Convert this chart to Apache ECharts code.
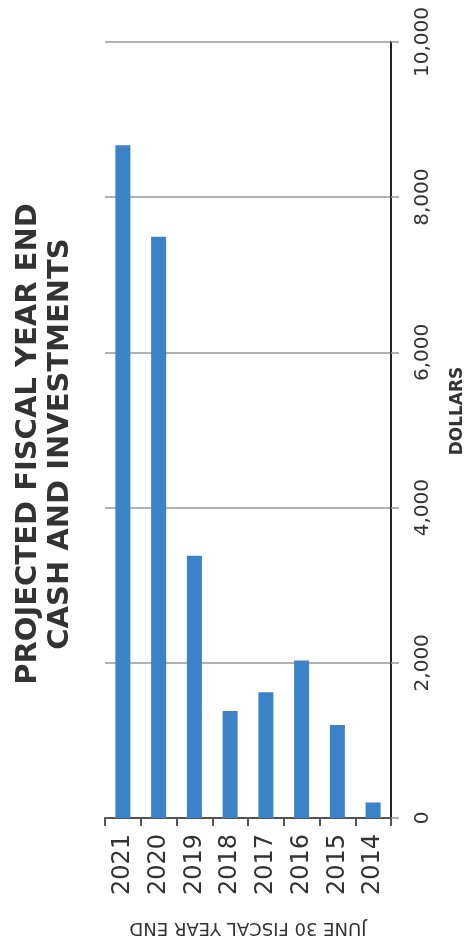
<!DOCTYPE html>
<html>
<head>
<meta charset="utf-8">
<script src="https://cdn.jsdelivr.net/npm/echarts@6/dist/echarts.min.js"></script>
<style>
  html, body { margin: 0; padding: 0; background: #ffffff; }
  #chart { width: 466px; height: 943px; }
</style>
</head>
<body>
<div id="chart"></div>
<script>
const titleLines = ['PROJECTED FISCAL YEAR END', 'CASH AND INVESTMENTS'];
const categoryAxisName = 'JUNE 30 FISCAL YEAR END';
const valueAxisName = 'DOLLARS';
const years = ['2021', '2020', '2019', '2018', '2017', '2016', '2015', '2014'];
const cashAndInvestments = [8670, 7490, 3380, 1380, 1620, 2030, 1200, 200];
const valueTicks = [0, 2000, 4000, 6000, 8000, 10000];

const chart = echarts.init(document.getElementById('chart'), null, { renderer: 'canvas' });
const font = 'DejaVu Sans, Verdana, sans-serif';

chart.setOption({
  backgroundColor: '#ffffff',
  animation: false,
  textStyle: { fontFamily: font },
  grid: { left: 105, right: 75, top: 42, bottom: 125, containLabel: false, outerBoundsMode: 'none' },
  graphic: [{
    type: 'text',
    x: 44,
    y: 444,
    rotation: Math.PI / 2,
    style: {
      text: titleLines.join('\n'),
      font: 'bold 29px ' + font,
      fill: '#333333',
      align: 'center',
      verticalAlign: 'middle',
      lineHeight: 32
    }
  }],
  xAxis: {
    type: 'category',
    data: years,
    name: categoryAxisName,
    nameLocation: 'middle',
    nameGap: 101,
    nameRotate: 180,
    nameMoveOverlap: false,
    nameTextStyle: { fontSize: 18, color: '#333333', fontFamily: font },
    axisLine: { show: true, lineStyle: { color: '#555555', width: 2 } },
    axisTick: { show: true, alignWithLabel: false, length: 8, lineStyle: { color: '#555555', width: 2 } },
    axisLabel: { rotate: 90, margin: 16, fontSize: 24, color: '#333333', fontFamily: font }
  },
  yAxis: {
    type: 'value',
    position: 'right',
    min: valueTicks[0],
    max: valueTicks[valueTicks.length - 1],
    interval: valueTicks[1] - valueTicks[0],
    name: valueAxisName,
    nameLocation: 'middle',
    nameGap: 58,
    nameRotate: 90,
    nameMoveOverlap: false,
    nameTextStyle: { fontSize: 17, fontWeight: 'bold', color: '#333333', fontFamily: font, padding: [0, 0, 0, 38] },
    axisLine: { show: true, lineStyle: { color: '#222222', width: 2 } },
    axisTick: { show: true, inside: false, length: 8, lineStyle: { color: '#999999', width: 1.5 } },
    axisLabel: {
      rotate: 90, margin: 22, fontSize: 20, color: '#333333', fontFamily: font,
      formatter: v => v.toLocaleString('en-US')
    },
    splitLine: { show: true, lineStyle: { color: '#999999', width: 1.5 } }
  },
  series: [{
    type: 'bar',
    data: cashAndInvestments,
    barWidth: 15,
    itemStyle: { color: '#3c82c8' }
  }]
});
</script>
</body>
</html>
